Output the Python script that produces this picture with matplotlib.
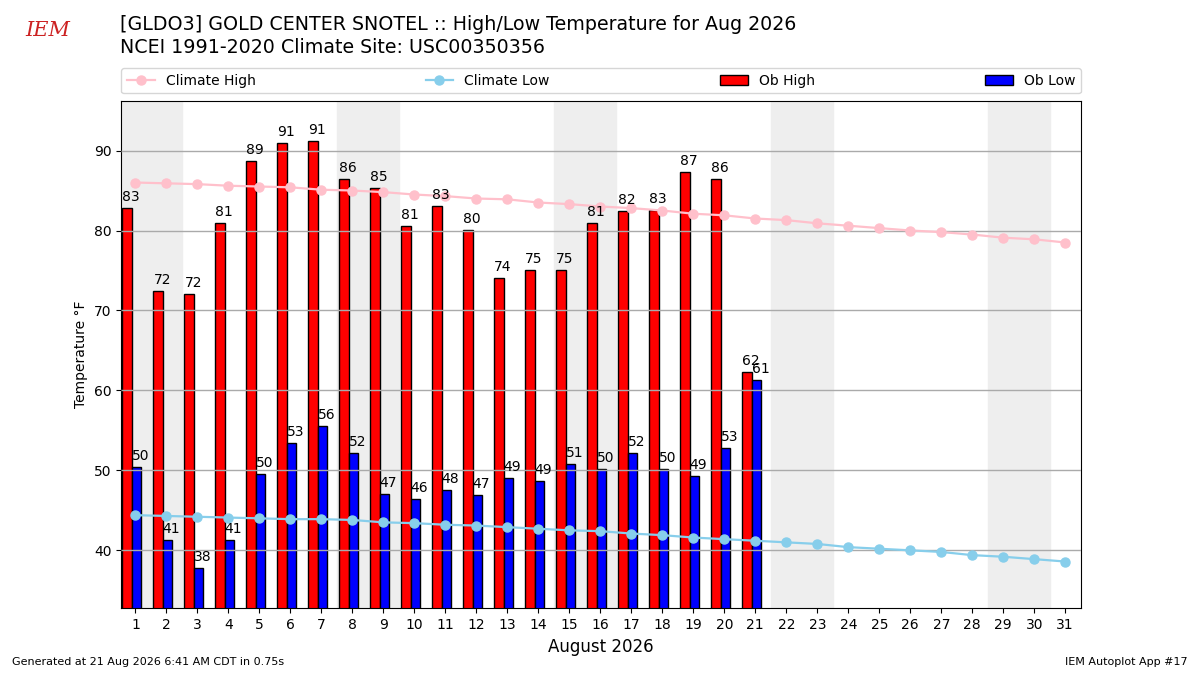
import numpy as np
import matplotlib
matplotlib.use('Agg')
import matplotlib.pyplot as plt

# dias do mes e observacoes (F)
dias = np.arange(1, 32)
diasObs = np.arange(1, 22)
obHigh = [82.8, 72.4, 72.0, 81.0, 88.7, 91.0, 91.2, 86.4, 85.3, 80.6, 83.1,
          80.1, 74.0, 75.0, 75.0, 81.0, 82.4, 82.6, 87.3, 86.4, 62.3]
obLow = [50.4, 41.3, 37.8, 41.3, 49.5, 53.4, 55.6, 52.2, 47.1, 46.4, 47.6,
         46.9, 49.1, 48.7, 50.8, 50.2, 52.2, 50.2, 49.3, 52.8, 61.3]

# normais climatologicas 1991-2020
climaHigh = [86.0, 85.9, 85.8, 85.6, 85.5, 85.4, 85.1, 85.0, 84.8, 84.5, 84.3,
             84.0, 83.9, 83.5, 83.3, 83.0, 82.8, 82.5, 82.1, 81.9, 81.5, 81.3,
             80.9, 80.6, 80.3, 80.0, 79.8, 79.5, 79.1, 78.9, 78.5]
climaLow = [44.4, 44.3, 44.2, 44.1, 44.0, 43.9, 43.9, 43.8, 43.5, 43.4, 43.2,
            43.1, 42.9, 42.7, 42.5, 42.4, 42.1, 41.9, 41.6, 41.4, 41.2, 41.0,
            40.8, 40.4, 40.2, 40.0, 39.8, 39.4, 39.2, 38.9, 38.6]

fimDeSemana = [1, 2, 8, 9, 15, 16, 22, 23, 29, 30]

fig = plt.figure(figsize=(12, 6.75), dpi=100)
ax = fig.add_axes([0.101, 0.0988, 0.7996, 0.7522])

for d in fimDeSemana:
    ax.axvspan(d - 0.5, d + 0.5, color='#EEEEEE', zorder=0)

ax.plot(dias, climaHigh, color='pink', marker='o', ms=6.5, lw=1.6,
        label='Climate High', zorder=3)
ax.plot(dias, climaLow, color='skyblue', marker='o', ms=6.5, lw=1.6,
        label='Climate Low', zorder=3)

ax.bar(diasObs - 0.42, obHigh, width=0.3, align='edge', color='r',
       edgecolor='k', lw=1, label='Ob High', zorder=2)
ax.bar(diasObs - 0.12, obLow, width=0.3, align='edge', color='b',
       edgecolor='k', lw=1, label='Ob Low', zorder=2)

for x, v in zip(diasObs, obHigh):
    ax.text(x - 0.42, v + 0.5, f"{v:.0f}", ha='left', va='bottom', fontsize=10, zorder=4)
for x, v in zip(diasObs, obLow):
    ax.text(x - 0.12, v + 0.5, f"{v:.0f}", ha='left', va='bottom', fontsize=10, zorder=4)

ax.set_xlim(0.54, 31.5)
ax.set_ylim(32.75, 96.25)
ax.set_xticks(dias)
ax.set_yticks(np.arange(40, 91, 10))
ax.yaxis.grid(True, color='#aaaaaa', lw=1)
ax.set_axisbelow(False)
ax.set_xlabel('August 2026', fontsize=12)
ax.set_ylabel('Temperature \u00b0F')

ax.legend(loc='lower left', bbox_to_anchor=(0, 1.014, 1, 0.05), ncol=4,
          mode='expand', borderaxespad=0, fontsize=10)

fig.text(0.1, 0.964, '[GLDO3] GOLD CENTER SNOTEL :: High/Low Temperature for Aug 2026',
         fontsize=13.7, va='center')
fig.text(0.1, 0.929, 'NCEI 1991-2020 Climate Site: USC00350356', fontsize=13.7, va='center')
fig.text(0.04, 0.955, 'IEM', color='#cc2222', fontsize=15, style='italic',
         family='DejaVu Serif', ha='center', va='center')
fig.text(0.01, 0.015, 'Generated at 21 Aug 2026 6:41 AM CDT in 0.75s', fontsize=8)
fig.text(0.99, 0.015, 'IEM Autoplot App #17', fontsize=8, ha='right')

fig.savefig('out.png', dpi=100)
